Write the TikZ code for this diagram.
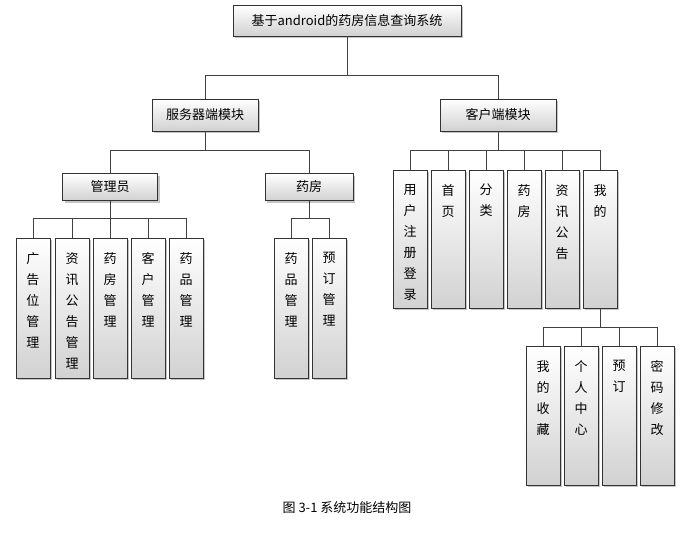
\documentclass[tikz,border=0pt]{standalone}
\usepackage{fontspec}
\setmainfont{Noto Sans CJK SC}
\usetikzlibrary{shadows}
\begin{document}
\begin{tikzpicture}[x=1pt,y=-1pt,
  box/.style={draw=black!80,line width=0.8pt,top color=white,bottom color=black!18,
    drop shadow={shadow xshift=2pt,shadow yshift=-2pt,fill=black!45},inner sep=0pt,
    font=\fontsize{13}{15}\selectfont},
  vtext/.style={anchor=north,align=center,font=\fontsize{13}{21}\selectfont,inner sep=0pt},
  con/.style={draw=black!75,line width=0.8pt}]
\useasboundingbox (0,0) rectangle (691,536);
\node[box,minimum width=228,minimum height=31] (root) at (347,20.5) {基于android的药房信息查询系统};
\node[box,minimum width=106,minimum height=32] (srv) at (205,115) {服务器端模块};
\node[box,minimum width=116,minimum height=32] (cli) at (498,115) {客户端模块};
\node[box,minimum width=95,minimum height=27] (adm) at (110,187) {管理员};
\node[box,minimum width=88,minimum height=27] (ph) at (309,187) {药房};
\newcommand{\leafbox}[5]{%
  \node[box,minimum width=34,minimum height=#4,anchor=north] (#1) at (#2,#3) {};
  \node[vtext] (#1t) at ([yshift=-14pt]#1.north) {#5};}
\leafbox{a1}{33}{238}{140}{广\\告\\位\\管\\理}
\leafbox{a2}{72}{238}{140}{资\\讯\\公\\告\\管\\理}
\leafbox{a3}{110}{238}{140}{药\\房\\管\\理}
\leafbox{a4}{148}{238}{140}{客\\户\\管\\理}
\leafbox{a5}{186}{238}{140}{药\\品\\管\\理}
\leafbox{p1}{291}{238}{140}{药\\品\\管\\理}
\leafbox{p2}{329}{238}{140}{预\\订\\管\\理}
\leafbox{c1}{410}{170}{138}{用\\户\\注\\册\\登\\录}
\leafbox{c2}{448}{170}{138}{首\\页}
\leafbox{c3}{486}{170}{138}{分\\类}
\leafbox{c4}{524}{170}{138}{药\\房}
\leafbox{c5}{562}{170}{138}{资\\讯\\公\\告}
\leafbox{c6}{600}{170}{138}{我\\的}
\leafbox{m1}{543}{346}{139}{我\\的\\收\\藏}
\leafbox{m2}{581}{346}{139}{个\\人\\中\\心}
\leafbox{m3}{619}{346}{139}{预\\订}
\leafbox{m4}{657}{346}{139}{密\\码\\修\\改}
\coordinate (b0) at (347,75);
\coordinate (b1) at (205,150);
\coordinate (b2) at (498,150);
\coordinate (b3) at (110,218);
\coordinate (b4) at (309,218);
\coordinate (b5) at (600,327);
\draw[con] (root.south) -- (b0);
\foreach \c in {srv,cli} \draw[con] (b0) -| (\c.north);
\draw[con] (srv.south) -- (b1);
\foreach \c in {adm,ph} \draw[con] (b1) -| (\c.north);
\draw[con] (adm.south) -- (b3);
\foreach \c in {a1,a2,a3,a4,a5} \draw[con] (b3) -| (\c.north);
\draw[con] (ph.south) -- (b4);
\foreach \c in {p1,p2} \draw[con] (b4) -| (\c.north);
\draw[con] (cli.south) -- (b2);
\foreach \c in {c1,c2,c3,c4,c5,c6} \draw[con] (b2) -| (\c.north);
\draw[con] (c6.south) -- (b5);
\foreach \c in {m1,m2,m3,m4} \draw[con] (b5) -| (\c.north);
\node[font=\fontsize{13}{15}\selectfont] (cap) at (347,508) {图 3-1 系统功能结构图};
\end{tikzpicture}
\end{document}
